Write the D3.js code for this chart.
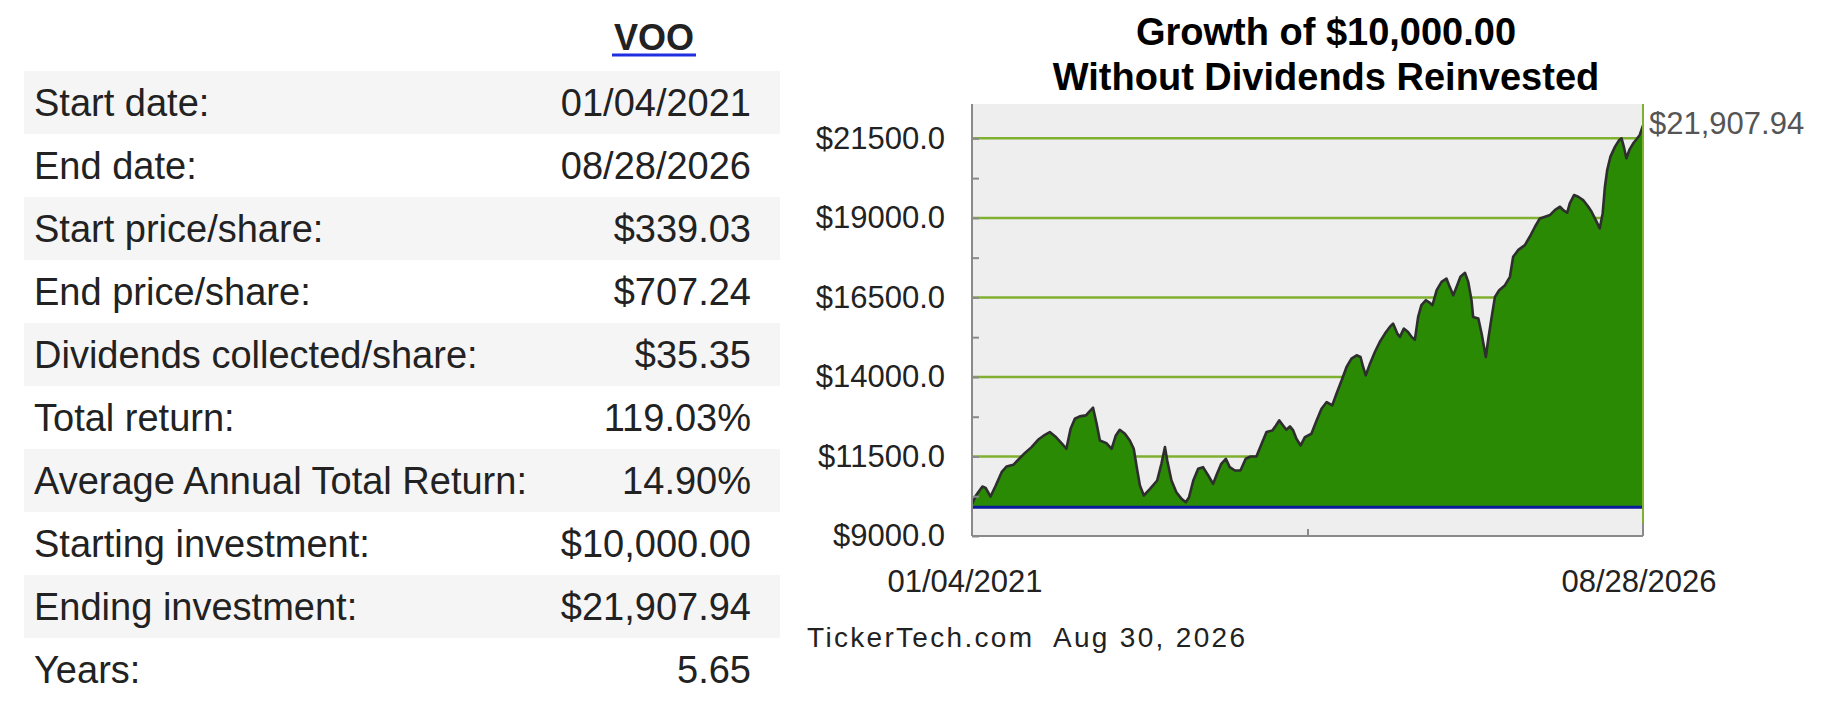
<!DOCTYPE html>
<html lang="en">
<head>
  <meta charset="UTF-8" />
  <title>VOO - Growth of $10,000.00</title>
  <script src="https://d3js.org/d3.v7.min.js"></script>
  <style>
    body { margin: 0; background: #fff; }
    svg { display: block; font-family: "Liberation Sans", Arial, sans-serif; }
    .row-label, .row-value { font-size: 38px; fill: #222; }
    .tick text { font-size: 31px; fill: #222; }
    .axis path, .axis line { stroke: #8a8a8a; stroke-width: 2px; }
  </style>
</head>
<body>

<svg width="1821" height="705"></svg>

<script>
  // Summary table
  const ticker = "VOO";
  const rowLabels = ["Start date:", "End date:", "Start price/share:", "End price/share:",
    "Dividends collected/share:", "Total return:", "Average Annual Total Return:",
    "Starting investment:", "Ending investment:", "Years:"];
  const rowValues = ["01/04/2021", "08/28/2026", "$339.03", "$707.24", "$35.35",
    "119.03%", "14.90%", "$10,000.00", "$21,907.94", "5.65"];

  // Growth series
  const dates = ["2021-01-04","2021-01-16","2021-02-05","2021-02-15","2021-03-02","2021-03-18",
    "2021-04-05","2021-04-20","2021-05-11","2021-05-26","2021-06-15","2021-07-06","2021-07-26",
    "2021-08-16","2021-08-31","2021-09-19","2021-10-06","2021-10-21","2021-11-03","2021-11-16",
    "2021-12-01","2021-12-20","2022-01-01","2022-01-11","2022-01-22","2022-02-01","2022-02-21",
    "2022-03-09","2022-03-22","2022-04-03","2022-04-19","2022-05-04","2022-05-16","2022-05-27",
    "2022-06-04","2022-06-16","2022-07-05","2022-07-27","2022-08-09","2022-08-20","2022-08-27",
    "2022-09-09","2022-09-24","2022-10-10","2022-10-23","2022-11-02","2022-11-15","2022-11-30",
    "2022-12-15","2022-12-31","2023-01-15","2023-01-27","2023-02-09","2023-02-23","2023-03-07",
    "2023-03-23","2023-04-09","2023-04-25","2023-05-10","2023-05-28","2023-06-13","2023-06-28",
    "2023-07-16","2023-07-27","2023-08-06","2023-08-18","2023-08-28","2023-09-08","2023-09-18",
    "2023-09-28","2023-10-11","2023-10-24","2023-11-13","2023-11-29","2023-12-14","2023-12-30",
    "2024-01-16","2024-01-29","2024-02-14","2024-02-29","2024-03-15","2024-03-31","2024-04-12",
    "2024-04-20","2024-04-28","2024-05-11","2024-05-26","2024-06-10","2024-06-26","2024-07-11",
    "2024-07-21","2024-08-03","2024-08-11","2024-08-23","2024-09-05","2024-09-16","2024-09-26",
    "2024-10-06","2024-10-16","2024-10-30","2024-11-11","2024-11-19","2024-12-02","2024-12-17",
    "2025-01-01","2025-01-11","2025-01-22","2025-02-01","2025-02-13","2025-02-27","2025-03-09",
    "2025-03-19","2025-03-24","2025-04-09","2025-04-19","2025-05-02","2025-05-09","2025-05-20",
    "2025-05-30","2025-06-12","2025-06-30","2025-07-15","2025-07-25","2025-08-09","2025-08-30",
    "2025-09-14","2025-09-30","2025-10-15","2025-10-31","2025-11-15","2025-11-30","2025-12-16",
    "2025-12-26","2026-01-07","2026-01-15","2026-01-28","2026-02-10","2026-02-25","2026-03-13",
    "2026-03-23","2026-04-05","2026-04-17","2026-04-26","2026-05-03","2026-05-10","2026-05-20",
    "2026-06-03","2026-06-16","2026-06-23","2026-06-30","2026-07-08","2026-07-17","2026-07-29",
    "2026-08-08","2026-08-18","2026-08-28"];
  const values = [10000,10272,10556,10514,10241,10587,
    11007,11185,11238,11396,11605,11794,12025,
    12182,12266,12109,11920,11742,12372,12686,
    12760,12791,12928,13033,12529,12004,11920,
    11742,12161,12340,12214,12004,11742,11059,
    10590,10273,10482,10745,11269,11794,11374,
    10745,10377,10167,10062,10220,10745,11112,
    11164,10902,10640,10955,11269,11427,11164,
    11059,11059,11427,11500,11500,11899,12267,
    12319,12476,12634,12476,12340,12445,12319,
    12057,11847,12109,12214,12634,13001,13211,
    13106,13473,13893,14313,14575,14680,14628,
    14313,14051,14418,14785,15100,15363,15572,
    15677,15363,15258,15520,15415,15258,15173,
    15887,16255,16412,16328,16255,16727,16989,
    17094,16832,16569,16832,17147,17273,16989,
    16412,15887,15835,15363,14628,15153,15887,
    16517,16727,16884,17147,17776,17986,18144,
    18406,18721,18983,19036,19088,19246,19351,
    19246,19162,19455,19718,19665,19560,19351,
    19193,18931,18668,19141,19980,20505,20925,
    21240,21450,21502,21240,20872,21135,21345,
    21471,21607,21907.94];

  const yTicks = [9000, 11500, 14000, 16500, 19000, 21500];
  const yMinorTicks = [10250, 12750, 15250, 17750, 20250];
  const yDomain = [9000, 22580];
  const baseValue = 9900;          // blue floor line under the area
  const titleLines = ["Growth of $10,000.00", "Without Dividends Reinvested"];
  const endLabel = "$21,907.94";
  const dateLabels = ["01/04/2021", "08/28/2026"];
  const footer = "TickerTech.com  Aug 30, 2026";

  const svg = d3.select("svg");
  const parse = d3.timeParse("%Y-%m-%d");
  const series = dates.map((d, i) => ({date: parse(d), value: values[i]}));

  // ---- table ----
  const rowTop = 71, rowH = 63, tableLeft = 24, tableRight = 780;

  svg.append("text")
    .attr("x", 654).attr("y", 50)
    .attr("text-anchor", "middle")
    .style("font-size", "36px").style("font-weight", "bold").style("fill", "#222")
    .text(ticker);
  svg.append("line")
    .attr("x1", 612).attr("x2", 696).attr("y1", 55).attr("y2", 55)
    .attr("stroke", "#1f2fe0").attr("stroke-width", 3);

  const rows = svg.append("g").selectAll("g")
    .data(rowLabels)
    .enter().append("g")
    .attr("transform", (d, i) => `translate(0,${rowTop + i * rowH})`);

  rows.append("rect")
    .attr("x", tableLeft).attr("width", tableRight - tableLeft)
    .attr("height", rowH)
    .attr("fill", (d, i) => i % 2 === 0 ? "#f5f5f5" : "#fff");

  rows.append("text")
    .attr("class", "row-label")
    .attr("x", 34).attr("y", 45)
    .text(d => d);

  rows.append("text")
    .attr("class", "row-value")
    .attr("x", 751).attr("y", 45)
    .attr("text-anchor", "end")
    .text((d, i) => rowValues[i]);

  // ---- chart ----
  const plot = {left: 972, right: 1643, top: 104, bottom: 536};

  const x = d3.scaleTime()
    .domain([series[0].date, series[series.length - 1].date])
    .range([plot.left, plot.right]);

  const y = d3.scaleLinear()
    .domain(yDomain)
    .range([plot.bottom, plot.top]);

  svg.append("rect")
    .attr("x", plot.left).attr("y", plot.top)
    .attr("width", plot.right - plot.left).attr("height", plot.bottom - plot.top)
    .attr("fill", "#eeeeee");

  // grid lines
  svg.append("g").selectAll("line")
    .data(yTicks.filter(d => d > yDomain[0]))
    .enter().append("line")
    .attr("x1", plot.left).attr("x2", plot.right)
    .attr("y1", d => y(d)).attr("y2", d => y(d))
    .attr("stroke", "#80b030").attr("stroke-width", 2.5);

  const area = d3.area()
    .x(d => x(d.date))
    .y0(y(baseValue))
    .y1(d => y(d.value));

  const line = d3.line()
    .x(d => x(d.date))
    .y(d => y(d.value));

  svg.append("path")
    .datum(series)
    .attr("d", area)
    .attr("fill", "#2a8a04");

  svg.append("path")
    .datum(series)
    .attr("d", line)
    .attr("fill", "none")
    .attr("stroke", "#2e2e2e")
    .attr("stroke-width", 2.6)
    .attr("stroke-linejoin", "round");

  svg.append("line")
    .attr("x1", plot.left).attr("x2", plot.right)
    .attr("y1", y(baseValue)).attr("y2", y(baseValue))
    .attr("stroke", "#0a1a9a").attr("stroke-width", 3);

  // right edge marker
  svg.append("line")
    .attr("x1", plot.right).attr("x2", plot.right)
    .attr("y1", plot.top).attr("y2", plot.bottom - 13)
    .attr("stroke", "#80b030").attr("stroke-width", 2);
  svg.append("line")
    .attr("x1", plot.right).attr("x2", plot.right)
    .attr("y1", plot.bottom - 13).attr("y2", plot.bottom)
    .attr("stroke", "#8a8a8a").attr("stroke-width", 2);

  // axes
  svg.append("g")
    .attr("class", "axis")
    .attr("transform", `translate(${plot.left},0)`)
    .call(d3.axisLeft(y).tickValues(yTicks).tickSize(-7).tickPadding(27)
      .tickFormat(d => "$" + d.toFixed(1)))
    .call(g => g.select(".domain").attr("d", `M0,${plot.top}V${plot.bottom}`));

  svg.append("g")
    .attr("class", "axis")
    .attr("transform", `translate(${plot.left},0)`)
    .call(d3.axisLeft(y).tickValues(yMinorTicks).tickSize(-7).tickFormat(""))
    .call(g => g.select(".domain").remove());

  const midDate = new Date((x.domain()[0].getTime() + x.domain()[1].getTime()) / 2);
  svg.append("g")
    .attr("class", "axis")
    .attr("transform", `translate(0,${plot.bottom})`)
    .call(d3.axisBottom(x).tickValues([midDate]).tickSize(-7).tickFormat(""))
    .call(g => g.select(".domain").attr("d", `M${plot.left},0H${plot.right}`));

  svg.append("g").selectAll("text")
    .data(x.domain())
    .enter().append("text")
    .attr("x", (d, i) => x(d) - 7 + i * 3)
    .attr("y", 592)
    .attr("text-anchor", "middle")
    .style("font-size", "31px").style("fill", "#222")
    .text((d, i) => dateLabels[i]);

  svg.append("text")
    .attr("x", plot.right + 6)
    .attr("y", y(series[series.length - 1].value) + 9)
    .style("font-size", "31px").style("fill", "#555")
    .text(endLabel);

  // titles
  svg.append("g").selectAll("text")
    .data(titleLines)
    .enter().append("text")
    .attr("x", 1326)
    .attr("y", (d, i) => 45 + i * 45)
    .attr("text-anchor", "middle")
    .style("font-size", "38px").style("font-weight", "bold").style("fill", "#000")
    .text(d => d);

  svg.append("text")
    .attr("x", 807).attr("y", 647)
    .attr("textLength", 438).attr("lengthAdjust", "spacing")
    .style("font-size", "28px").style("fill", "#222")
    .style("white-space", "pre")
    .text(footer);
</script>

</body>
</html>
